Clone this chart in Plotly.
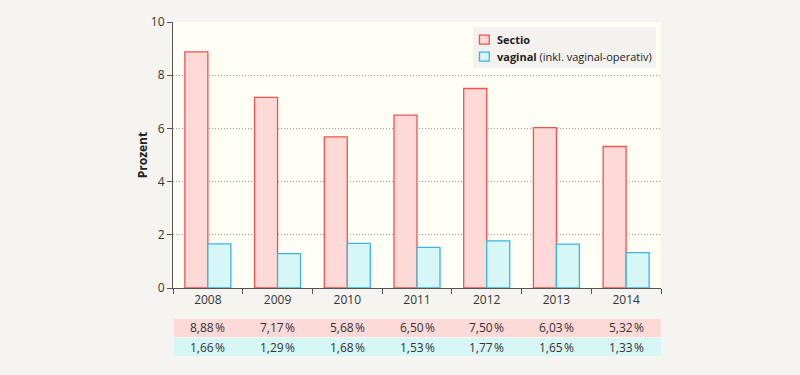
import plotly.graph_objects as go

years = ["2008", "2009", "2010", "2011", "2012", "2013", "2014"]
sectio = [8.88, 7.17, 5.68, 6.50, 7.50, 6.03, 5.32]
vaginal = [1.66, 1.29, 1.68, 1.53, 1.77, 1.65, 1.33]
y_ticks = [0, 2, 4, 6, 8, 10]
legend_labels = ["<b>Sectio</b>", "<b>vaginal</b> (inkl. vaginal-operativ)"]

def fmt(v):
    return f"{v:.2f}".replace(".", ",") + "\u200a%"

FONT = "Open Sans, Noto Sans, sans-serif"
RED_FILL, RED_LINE = "#fdd9d8", "#f0534f"
CYAN_FILL, CYAN_LINE = "#d7f6f6", "#3cb4e0"

fig = go.Figure()
fig.add_trace(go.Bar(
    x=years, y=sectio, name="Sectio", showlegend=False,
    marker=dict(color=RED_FILL, line=dict(color=RED_LINE, width=1.3)),
))
fig.add_trace(go.Bar(
    x=years, y=vaginal, name="vaginal (inkl. vaginal-operativ)", showlegend=False,
    marker=dict(color=CYAN_FILL, line=dict(color=CYAN_LINE, width=1.3)),
))

# table rows below the chart
rows = [(sectio, RED_FILL, -0.1165, -0.184), (vaginal, CYAN_FILL, -0.188, -0.256)]
for vals, col, y0, y1 in rows:
    fig.add_shape(type="rect", xref="x domain", yref="paper",
                  x0=0.002, x1=1.0, y0=y0, y1=y1,
                  fillcolor=col, line=dict(width=0), layer="below")
    for i, v in enumerate(vals):
        fig.add_annotation(x=i, xref="x", y=(y0 + y1) / 2, yref="paper",
                           text=fmt(v), showarrow=False,
                           font=dict(size=12, color="#333333", family=FONT),
                           yanchor="middle")

# legend box (custom)
fig.add_shape(type="rect", xref="paper", yref="paper", x0=0.6148, x1=0.9898,
              y0=0.827, y1=0.981, fillcolor="#f3f2ee", line=dict(width=0))
leg = [(RED_FILL, RED_LINE, 0.951, 0.917, 0.934),
       (CYAN_FILL, CYAN_LINE, 0.887, 0.853, 0.870)]
for (fc, lc, sy1, sy0, ty), lab in zip(leg, legend_labels):
    fig.add_shape(type="rect", xref="paper", yref="paper", x0=0.628, x1=0.648,
                  y0=sy0, y1=sy1, fillcolor=fc, line=dict(color=lc, width=1.3))
    fig.add_annotation(x=0.660, y=ty, xref="paper", yref="paper", text=lab,
                       showarrow=False, xanchor="left", yanchor="middle",
                       font=dict(size=11, color="#222222", family=FONT))

fig.update_layout(
    width=800, height=375,
    margin=dict(l=173, r=139, t=22, b=87),
    paper_bgcolor="#f5f4f0",
    plot_bgcolor="#fffff5",
    barmode="group",
    bargap=0.34, bargroupgap=0,
    font=dict(family=FONT, size=12, color="#333333"),
    showlegend=False,
    xaxis=dict(
        type="category", automargin=False, range=[-0.5, len(years) - 0.5],
        showline=True, linecolor="#555555", linewidth=1.2,
        ticks="outside", tickson="boundaries", ticklen=5,
        tickcolor="#555555", showgrid=False, tickangle=0,
        tickfont=dict(size=12, color="#333333"),
    ),
    yaxis=dict(
        range=[0, 10], tickvals=y_ticks, automargin=False,
        showline=True, linecolor="#555555", linewidth=1.2,
        ticks="outside", ticklen=5, tickcolor="#555555",
        showgrid=True, gridcolor="#9a9a9a", griddash="1px,2px", gridwidth=1,
        zeroline=False,
        tickfont=dict(size=12, color="#333333"),
        title=dict(text="<b>Prozent</b>", font=dict(size=12, color="#222222"), standoff=0),
    ),
)

fig.write_html("out.html", config={"displayModeBar": False},
               post_script="document.body.style.margin='0';")
